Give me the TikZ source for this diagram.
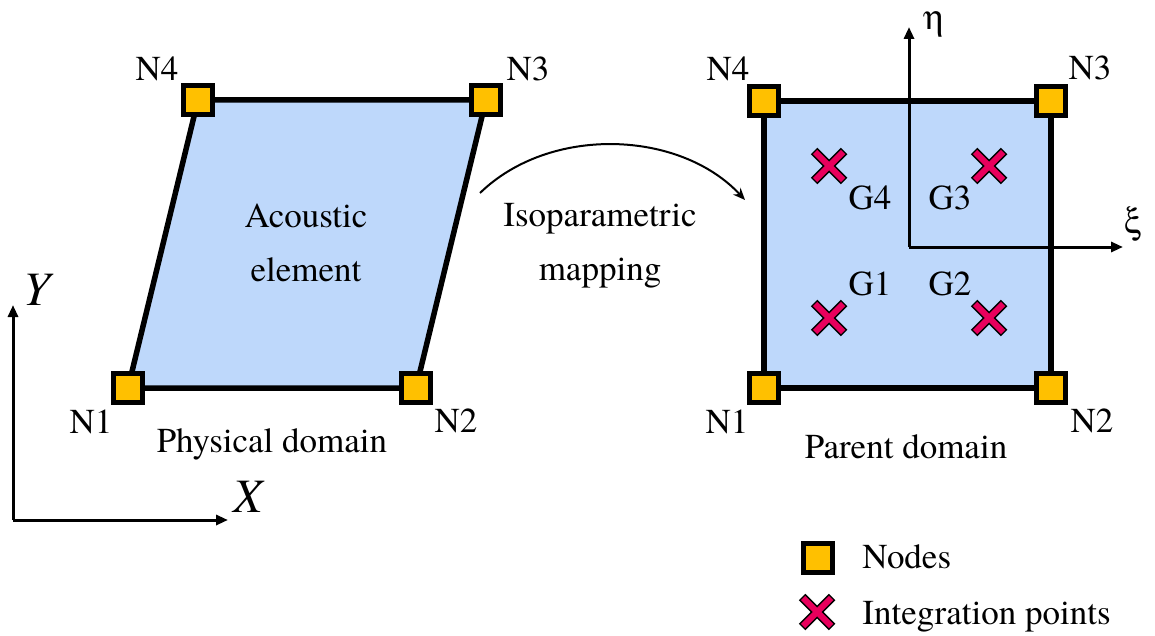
\documentclass[tikz,border=0pt]{standalone}
\usepackage{fontspec}
\setmainfont{texgyretermes}[Extension=.otf,
  UprightFont=*-regular, BoldFont=*-bold,
  ItalicFont=*-italic, BoldItalicFont=*-bolditalic]
\usepackage[Symbol]{upgreek}
\usetikzlibrary{arrows.meta, positioning, calc}
\definecolor{elemblue}{RGB}{190,216,251}
\definecolor{nodeyellow}{RGB}{255,192,0}
\definecolor{crosspink}{RGB}{232,0,92}
\tikzstyle{element} = [draw, fill=elemblue, line width=2.75pt, line join=miter]
\tikzstyle{nodesq} = [rectangle, draw, fill=nodeyellow, line width=2.5pt,
  minimum size=14.5pt, inner sep=0pt]
\tikzstyle{lbl} = [anchor=base, inner sep=0pt]
\tikzstyle{axis} = [draw, -{Triangle[length=6pt,width=5pt]}, line width=1.5pt]
\tikzstyle{maparrow} = [draw, -{Stealth[length=6pt,width=5pt]}, line width=1pt]
% integration point marker
\newcommand{\intpt}[1]{%
  \draw[line width=4.6pt, black] ($#1+(-15,-15)$) -- ($#1+(15,15)$)
    ($#1+(-15,15)$) -- ($#1+(15,-15)$);
  \draw[line width=3pt, crosspink] ($#1+(-14,-14)$) -- ($#1+(14,14)$)
    ($#1+(-14,14)$) -- ($#1+(14,-14)$);}
\begin{document}
\begin{tikzpicture}[x=0.5pt, y=-0.5pt, font=\fontsize{17.5}{27}\selectfont]
    \useasboundingbox (0,0) rectangle (1155,636);

    % physical domain
    \coordinate (p1) at (128,388);
    \coordinate (p2) at (416,388);
    \coordinate (p3) at (486,100);
    \coordinate (p4) at (198,100);
    \path [element] (p1) -- (p2) -- (p3) -- (p4) -- cycle;
    \node [align=center] (acoustic) at (306,243) {Acoustic\\element};
    \node [lbl] (physlbl) at (272,452) {Physical domain};

    % global axes
    \coordinate (o) at (13,520);
    \coordinate (xtip) at (228,520);
    \coordinate (ytip) at (13,305);
    \path [axis] (o) -- (xtip);
    \path [axis] (o) -- (ytip);
    \node [font=\fontsize{24}{28}\selectfont\itshape] (xlab) at (248,497) {X};
    \node [font=\fontsize{24}{28}\selectfont\itshape] (ylab) at (37,290) {Y};

    % mapping
    \coordinate (mapA) at (480,193);
    \coordinate (mapB) at (745,200);
    \path [maparrow] (mapA) .. controls (550,125) and (680,130) .. (mapB);
    \node [align=center] (mapping) at (600,246) {Isoparametric\\mapping};

    % parent domain
    \coordinate (q1) at (764,388);
    \coordinate (q2) at (1051,388);
    \coordinate (q3) at (1051,101);
    \coordinate (q4) at (764,101);
    \path [element] (q1) -- (q2) -- (q3) -- (q4) -- cycle;
    \node [lbl] (parentlbl) at (906,458) {Parent domain};

    % local axes
    \coordinate (po) at (909,247);
    \coordinate (etatip) at (909,27);
    \coordinate (xitip) at (1123,247);
    \path [axis] (po) -- (etatip);
    \path [axis] (po) -- (xitip);
    \node [lbl] (etalbl) at (934,30) {$\upeta$};
    \node [lbl] (xilbl) at (1133,234) {$\upxi$};

    % integration points
    \intpt{(829,166)}
    \intpt{(989,166)}
    \intpt{(829,318)}
    \intpt{(989,318)}
    \node [lbl] (g4) at (870,210) {G4};
    \node [lbl] (g3) at (950,210) {G3};
    \node [lbl] (g1) at (870,295) {G1};
    \node [lbl] (g2) at (950,295) {G2};

    % nodes
    \foreach \n in {p1,p2,p3,p4,q1,q2,q3,q4}
      \node [nodesq] (\n sq) at (\n) {};
    \node [lbl] (pn1) at (91,433) {N1};
    \node [lbl] (pn2) at (456,432) {N2};
    \node [lbl] (pn3) at (528,81) {N3};
    \node [lbl] (pn4) at (157,81) {N4};
    \node [lbl] (qn1) at (727,433) {N1};
    \node [lbl] (qn2) at (1092,432) {N2};
    \node [lbl] (qn3) at (1090,80) {N3};
    \node [lbl] (qn4) at (728,81) {N4};

    % legend
    \node [nodesq] (legsq) at (818,558) {};
    \node [lbl, anchor=base west] (legnodes) at (862,568) {Nodes};
    \intpt{(817,612)}
    \node [lbl, anchor=base west] (legint) at (862,624) {Integration points};
\end{tikzpicture}
\end{document}
